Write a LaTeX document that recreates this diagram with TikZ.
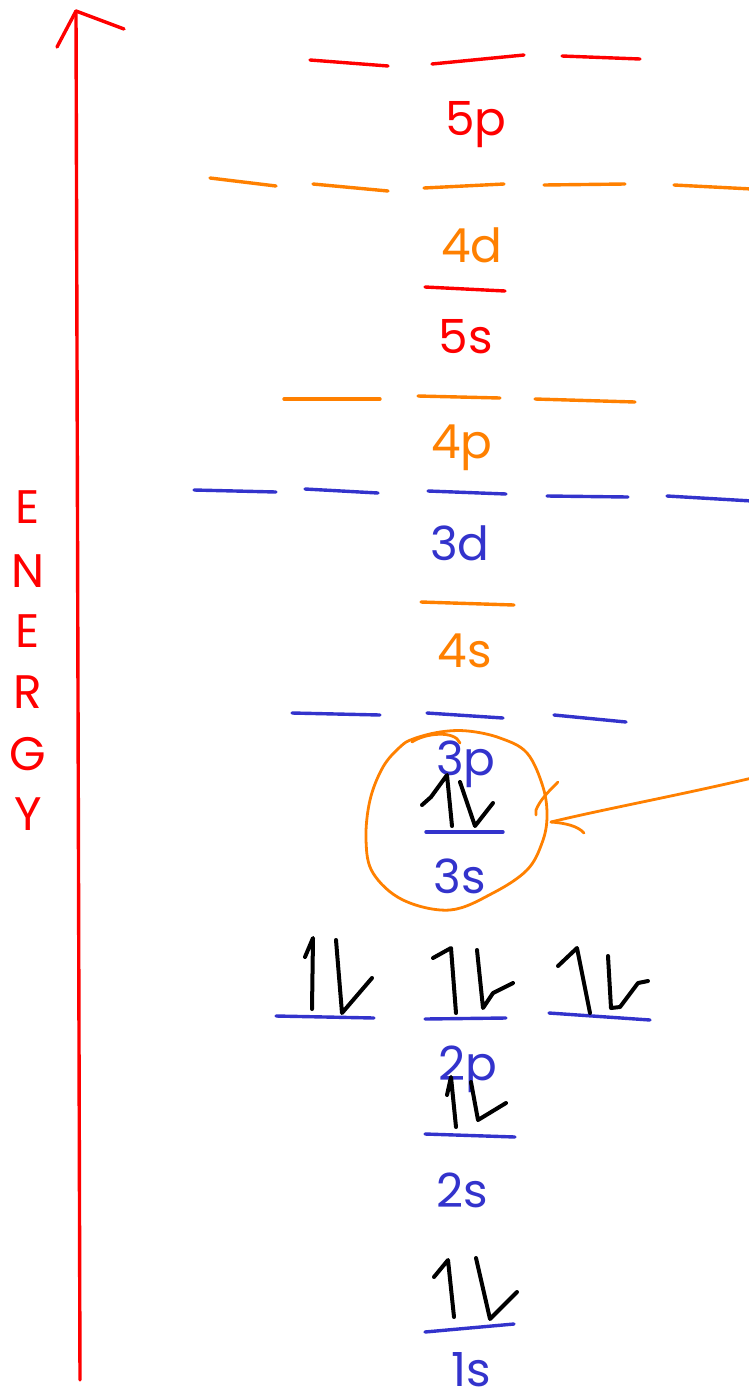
\documentclass[tikz,border=0pt]{standalone}
\usepackage{fontspec}
\setmainfont{Poppins}
\definecolor{ered}{RGB}{255,0,0}
\definecolor{eorange}{RGB}{255,128,0}
\definecolor{eblue}{RGB}{51,51,204}
\begin{document}
\begin{tikzpicture}[x=1pt,y=-1pt,
  lvl/.style={line width=3.4pt,line cap=round},
  spin/.style={line width=4pt,line cap=round,line join=round,black},
  lab/.style={anchor=base,inner sep=0pt,font=\fontsize{47}{50}\selectfont},
  axis/.style={line width=3.4pt,ered,line cap=round,line join=round},
  hand/.style={line width=2.8pt,eorange,line cap=round,line join=round}]
\useasboundingbox (0,0) rectangle (749,1398);
% energy axis
\coordinate (ab) at (80,1380);
\coordinate (at) at (76,11);
\draw[axis] (ab) -- (at);
\draw[axis] (57,47) -- (at) -- (124,29);
\foreach \l/\yy [count=\i] in {E/523,N/587,E/647,R/708,G/770,Y/830}
  \node[lab,ered] (en\i) at (28,\yy) {\l};
% 5p
\draw[lvl,ered] (310,60) -- (388,66);
\draw[lvl,ered] (432,64) -- (524,55);
\draw[lvl,ered] (562,56) -- (640,59);
\node[lab,ered] (l5p) at (476,135) {5p};
% 4d
\draw[lvl,eorange] (210,178) -- (276,186);
\draw[lvl,eorange] (313,184) -- (388,191);
\draw[lvl,eorange] (424,188) -- (504,184);
\draw[lvl,eorange] (544,185) -- (625,184);
\draw[lvl,eorange] (674,185) -- (752,189);
\node[lab,eorange] (l4d) at (472,262) {4d};
% 5s
\draw[lvl,ered] (425,287) -- (505,291);
\node[lab,ered] (l5s) at (466,353) {5s};
% 4p
\draw[lvl,eorange] (284,399) -- (380,399);
\draw[lvl,eorange] (418,396) -- (500,398);
\draw[lvl,eorange] (535,399) -- (635,402);
\node[lab,eorange] (l4p) at (462,458) {4p};
% 3d
\draw[lvl,eblue] (194,490) -- (276,492);
\draw[lvl,eblue] (305,489) -- (378,493);
\draw[lvl,eblue] (428,491) -- (506,494);
\draw[lvl,eblue] (547,496) -- (628,497);
\draw[lvl,eblue] (667,496) -- (752,501);
\node[lab,eblue] (l3d) at (460,560) {3d};
% 4s
\draw[lvl,eorange] (421,602) -- (514,605);
\node[lab,eorange] (l4s) at (465,667) {4s};
% 3p
\draw[lvl,eblue] (292,713) -- (380,715);
\draw[lvl,eblue] (427,713) -- (503,718);
\draw[lvl,eblue] (554,715) -- (626,722);
\node[lab,eblue] (l3p) at (466,775) {3p};
% 3s
\draw[lvl,eblue] (426,832) -- (503,832);
\node[lab,eblue] (l3s) at (460,893) {3s};
\draw[spin] (422,805) -- (431,797) -- (447,775) -- (452,826);
\draw[spin] (460,782) -- (475,826) -- (493,803);
% circle and pointer
\draw[hand] plot[smooth cycle,tension=0.6] coordinates {(413,739) (440,732) (468,731) (500,738) (527,753) (543,787) (547,817) (542,843) (527,870) (493,893) (450,910) (403,900) (373,873) (366,840) (370,800) (383,767) (400,747)};
\draw[hand] (412,742) .. controls (425,733) and (455,730) .. (460,743);
\coordinate (pstart) at (752,778);
\coordinate (ptip) at (551,822);
\draw[hand] (pstart) .. controls (680,795) and (600,810) .. (ptip);
\draw[hand] (ptip) .. controls (565,823) and (578,826) .. (584,833);
\draw[hand] (558,782) .. controls (548,792) and (540,800) .. (536,810) -- (536,815);
% 2p
\draw[lvl,eblue] (276,1016) -- (374,1018);
\draw[lvl,eblue] (425,1019) -- (506,1018);
\draw[lvl,eblue] (549,1013) -- (650,1020);
\node[lab,eblue] (l2p) at (468,1080) {2p};
\draw[spin] (305,957) -- (313,938) -- (312,1009);
\draw[spin] (336,940) -- (342,1013) -- (372,978);
\draw[spin] (433,958) -- (451,948) -- (456,1013);
\draw[spin] (477,950) -- (483,1008) -- (493,993) -- (513,983);
\draw[spin] (558,966) -- (577,948) -- (590,1013);
\draw[spin] (608,956) -- (611,1008) -- (620,1007) -- (638,983) -- (648,981);
% 2s
\draw[lvl,eblue] (425,1134) -- (515,1137);
\node[lab,eblue] (l2s) at (462,1207) {2s};
\draw[spin] (447,1095) -- (451,1077) -- (456,1127);
\draw[spin] (471,1082) -- (478,1120) -- (506,1103);
% 1s
\draw[lvl,eblue] (425,1332) -- (514,1324);
\node[lab,eblue] (l1s) at (471,1386) {1s};
\draw[spin] (434,1277) -- (448,1260) -- (454,1317);
\draw[spin] (476,1258) -- (490,1319) -- (517,1292);
\end{tikzpicture}
\end{document}
